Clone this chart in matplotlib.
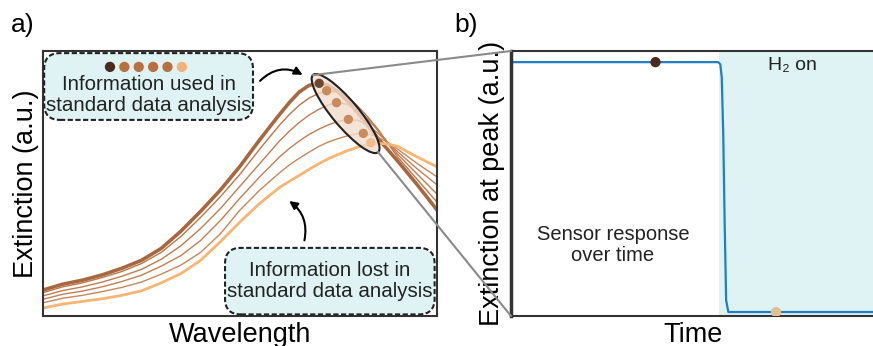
import numpy as np
import matplotlib
matplotlib.use("Agg")
from matplotlib import pyplot as plt
from matplotlib.patches import Ellipse, FancyBboxPatch, ConnectionPatch
from matplotlib.transforms import ScaledTranslation

plt.rcParams['font.family'] = ['Liberation Sans', 'DejaVu Sans']

# spectra (normalised wavelength / extinction)
wl = [0.00, 0.05, 0.10, 0.15, 0.20, 0.25, 0.30, 0.35, 0.40, 0.45, 0.50,
      0.55, 0.60, 0.625, 0.65, 0.675, 0.70, 0.725, 0.75, 0.775, 0.80,
      0.825, 0.85, 0.875, 0.90, 0.95, 1.00]
spec_a = [.098, .120, .135, .155, .180, .210, .255, .320, .395, .475, .565,
          .665, .760, .805, .845, .870, .880, .870, .845, .808, .765,
          .718, .670, .628, .585, .495, .400]
spec_b = [.088, .110, .125, .145, .168, .198, .240, .300, .372, .450, .535,
          .630, .720, .760, .795, .822, .840, .848, .845, .825, .790,
          .750, .705, .652, .600, .515, .430]
spec_c = [.076, .096, .110, .128, .150, .176, .214, .265, .330, .405, .490,
          .575, .660, .697, .730, .758, .780, .797, .805, .798, .775,
          .742, .700, .655, .610, .535, .460]
spec_d = [.063, .082, .094, .110, .130, .154, .188, .228, .285, .360, .445,
          .525, .600, .632, .660, .685, .705, .722, .735, .741, .738,
          .720, .690, .655, .620, .555, .495]
spec_e = [.050, .067, .078, .092, .108, .128, .158, .192, .240, .310, .400,
          .475, .540, .570, .595, .618, .640, .657, .670, .681, .688,
          .686, .675, .655, .630, .575, .525]
spec_f = [.030, .045, .055, .065, .078, .095, .125, .160, .210, .280, .355,
          .425, .485, .508, .530, .553, .575, .594, .610, .625, .638,
          .647, .652, .649, .640, .600, .563]
spectra = [spec_a, spec_b, spec_c, spec_d, spec_e, spec_f]
spec_colors = ['#a8683f', '#b9764a', '#c07d50', '#c27f52', '#c6875a', '#f7b573']
spec_widths = [2.6, 1.0, 1.0, 1.0, 1.0, 2.0]

# peak positions (dots in the ellipse)
peak_x = [0.701, 0.720, 0.745, 0.775, 0.813, 0.832]
peak_y = [0.878, 0.850, 0.805, 0.742, 0.689, 0.654]
peak_colors = ['#6e4632', '#c98a5c', '#c98a5c', '#c98a5c', '#c98a5c', '#f2bd8d']
legend_colors = ['#4a2a1c', '#b8703f', '#b8703f', '#b8703f', '#b8703f', '#f4b27a']

# time trace at peak
t = [0.0, 0.30, 0.569, 0.575, 0.579, 0.583, 0.587, 0.591, 0.597, 0.80, 1.0]
ext = [0.958, 0.958, 0.958, 0.950, 0.900, 0.690, 0.350, 0.060, 0.015, 0.015, 0.015]
h2_start = 0.571
mark_t = [0.397, 0.728]
mark_ext = [0.958, 0.015]
mark_colors = ['#4a2a1c', '#e0c095']

fig = plt.figure(figsize=(8.73, 3.46), dpi=100)
ax1 = fig.add_axes([43/873, 30/346, 394/873, 265/346])
ax2 = fig.add_axes([511/873, 30/346, 364/873, 265/346])

# ---- panel a
for y, c, w in zip(spectra, spec_colors, spec_widths):
    ax1.plot(wl, y, color=c, lw=w, zorder=2)
ax1.set_xlim(0, 1)
ax1.set_ylim(0, 1)
ax1.set_xticks([])
ax1.set_yticks([])
for s in ax1.spines.values():
    s.set_color('#333333')
    s.set_linewidth(1.5)
ax1.set_xlabel('Wavelength', fontsize=19.5, labelpad=4)
ax1.set_ylabel('Extinction (a.u.)', fontsize=19.5, labelpad=3)

ell_tr = fig.dpi_scale_trans + ScaledTranslation(0.768, 0.764, ax1.transData)
ax1.add_patch(Ellipse((0, 0), 1.01, 0.26, angle=-50, transform=ell_tr,
                      fc='#f3dccd', alpha=0.8, ec='none', zorder=3))
ax1.add_patch(Ellipse((0, 0), 1.01, 0.26, angle=-50, transform=ell_tr,
                      fc='none', ec='#222222', lw=1.5, zorder=5))
ax1.scatter(peak_x, peak_y, s=45, c=peak_colors, zorder=4, edgecolors='none')

aspect = 394/265
box_kw = dict(boxstyle='round,pad=0,rounding_size=0.04', mutation_aspect=aspect,
              fc='#dff3f4', ec='#222222', lw=1.5, ls=(0, (2.5, 1.2)), zorder=6)
ax1.add_patch(FancyBboxPatch((0.003, 0.74), 0.530, 0.252, **box_kw))
ax1.add_patch(FancyBboxPatch((0.462, 0.006), 0.532, 0.251, **box_kw))
ax1.text(0.268, 0.833, 'Information used in\nstandard data analysis', fontsize=14.8,
         ha='center', va='center', color='#222222', linespacing=1.12, zorder=7)
ax1.text(0.728, 0.132, 'Information lost in\nstandard data analysis', fontsize=14.8,
         ha='center', va='center', color='#222222', linespacing=1.12, zorder=7)
dot_x = 0.170 + 0.0365 * np.arange(len(legend_colors))
ax1.scatter(dot_x, [0.94] * len(dot_x), s=55, c=legend_colors, zorder=7,
            edgecolors='none')

arrow_kw = dict(arrowstyle='-|>', color='black', lw=1.5, mutation_scale=12)
ax1.annotate('', xy=(0.665, 0.905), xytext=(0.546, 0.88),
             arrowprops=dict(connectionstyle='arc3,rad=-0.4', **arrow_kw), zorder=8)
ax1.annotate('', xy=(0.619, 0.44), xytext=(0.662, 0.275),
             arrowprops=dict(connectionstyle='arc3,rad=0.35', **arrow_kw), zorder=8)

# ---- panel b
ax2.axvspan(h2_start, 1.0, color='#dff3f5', lw=0, zorder=0)
ax2.plot(t, ext, color='#1f7fc6', lw=1.6, zorder=2)
ax2.scatter(mark_t, mark_ext, s=55, c=mark_colors, zorder=3, edgecolors='none')
ax2.set_xlim(0, 1)
ax2.set_ylim(0, 1)
ax2.set_xticks([])
ax2.set_yticks([])
for s in ax2.spines.values():
    s.set_color('#333333')
    s.set_linewidth(1.5)
ax2.spines['left'].set_linewidth(2.5)
ax2.set_xlabel('Time', fontsize=19.5, labelpad=4)
ax2.set_ylabel('Extinction at peak (a.u.)', fontsize=19.5, labelpad=4)
ax2.text(0.772, 0.945, 'H₂ on', fontsize=14, ha='center', va='center',
         color='#222222')
ax2.text(0.28, 0.268, 'Sensor response\nover time', fontsize=14.5, ha='center',
         va='center', color='#222222', linespacing=1.12)

# zoom lines
for pa, pb in [((0.685, 0.909), (0, 1)), ((0.850, 0.619), (0, 0))]:
    con = ConnectionPatch(xyA=pa, coordsA=ax1.transData, xyB=pb,
                          coordsB=ax2.transAxes, color='#8a8a8a', lw=1.5, zorder=1)
    fig.add_artist(con)

fig.text(11/873, 1 - 25/346, 'a)', fontsize=19, ha='left', va='center')
fig.text(454/873, 1 - 25/346, 'b)', fontsize=19, ha='left', va='center')

fig.savefig('out.png', dpi=100)
